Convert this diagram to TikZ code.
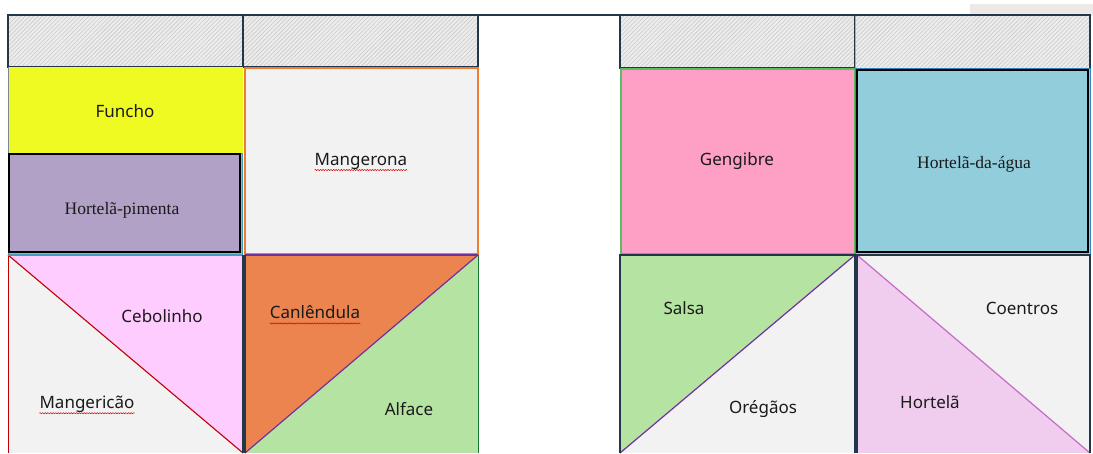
\documentclass[tikz,border=0pt]{standalone}
\usepackage{fontspec}
\setmainfont{Noto Sans}
\newfontfamily\serifcell{Liberation Serif}
\usetikzlibrary{patterns.meta,decorations.pathmorphing}

\definecolor{frame}{HTML}{22384A}
\definecolor{hatchbg}{HTML}{EDEDED}
\definecolor{hatchln}{HTML}{CFCFCF}
\definecolor{cellgray}{HTML}{F2F2F2}
\definecolor{funcho}{HTML}{EFFA22}
\definecolor{lilac}{HTML}{B2A1C7}
\definecolor{teal}{HTML}{3F9FBF}
\definecolor{orangeline}{HTML}{ED7D31}
\definecolor{pinkcell}{HTML}{FFCCFF}
\definecolor{redline}{HTML}{C00000}
\definecolor{calendula}{HTML}{EC844F}
\definecolor{leaf}{HTML}{B4E3A2}
\definecolor{violet}{HTML}{7030A0}
\definecolor{ginger}{HTML}{FEA0C5}
\definecolor{greenline}{HTML}{5DBB63}
\definecolor{water}{HTML}{92CDDC}
\definecolor{blueline}{HTML}{2E86C1}
\definecolor{mint}{HTML}{F0CDEE}
\definecolor{mintline}{HTML}{C66BC6}
\definecolor{ink}{HTML}{1A1A1A}
\definecolor{corner}{HTML}{EEE8E6}

\tikzset{
  hatch/.style={fill=hatchbg, postaction={pattern={Lines[angle=45,distance=3pt,line width=0.8pt]}, pattern color=hatchln}},
  edge/.style={draw=frame, line width=1.4pt},
  label/.style={font=\fontsize{17}{19}\selectfont, text=ink, inner sep=0pt},
  seriflabel/.style={font=\serifcell\fontsize{17.5}{19}\selectfont, text=ink, inner sep=0pt},
  squiggle/.style={draw=red!85!black, line width=0.5pt, decorate, decoration={snake, amplitude=0.6pt, segment length=2.6pt}}
}

\begin{document}
\begin{tikzpicture}[x=1pt,y=-1pt]
\useasboundingbox (0,0) rectangle (1093,453);
\fill[white] (0,0) rectangle (1093,453);
\fill[corner] (970,4) rectangle (1093,16);

% ---------- left bed ----------
% header strip
\path[hatch] (8,15) rectangle (243,67);
\path[hatch] (243,15) rectangle (478,67);
\draw[edge] (8,15) rectangle (243,67);
\draw[edge] (243,15) rectangle (478,67);

% Funcho
\fill[funcho] (8,67) rectangle (243,153);
\draw[frame!60, line width=1pt] (8,67) -- (8,153);

% Hortela-pimenta
\fill[lilac] (8,153) rectangle (242,254);
\draw[teal, line width=1pt] (8,153) rectangle (242,254);
\draw[black, line width=1.2pt] (9,154) rectangle (240,252);

% Mangerona
\filldraw[fill=cellgray, draw=orangeline, line width=1.2pt] (245,68) rectangle (478,254);

% Cebolinho / Mangericao
\fill[cellgray] (8,255) rectangle (243,453);
\fill[pinkcell] (8,255) -- (243,255) -- (243,453) -- cycle;
\draw[redline, line width=1.1pt] (8,255) -- (243,453);
\draw[redline, line width=1pt] (8,255) -- (8,453);
\draw[teal, line width=1pt] (8,255) -- (243,255);
\draw[frame, line width=1.2pt] (243,255) -- (243,453);

% Canlendula / Alface
\fill[calendula] (245,255) -- (478,255) -- (245,453) -- cycle;
\fill[leaf] (478,255) -- (478,453) -- (245,453) -- cycle;
\draw[violet, line width=1.2pt] (245,453) -- (478,255);
\draw[violet, line width=1.2pt] (245,255) -- (478,255);
\draw[frame, line width=1.2pt] (245,255) -- (245,453);
\draw[frame!70!green, line width=1pt] (478,255) -- (478,453);

% ---------- right bed ----------
\path[hatch] (620,15) rectangle (855,68);
\path[hatch] (855,15) rectangle (1090,68);
\draw[edge] (620,15) rectangle (855,68);
\draw[frame!40, line width=0.8pt] (855,15) -- (855,68);
\draw[edge] (855,15) -- (1090,15) -- (1090,68);

% top rail over both beds
\draw[edge] (8,15) -- (1090,15);

% Gengibre
\filldraw[fill=ginger, draw=greenline, line width=1.4pt] (621,69) rectangle (855,254);

% Hortela-da-agua
\filldraw[fill=water, draw=blueline, line width=1pt] (855,68) rectangle (1090,254);
\draw[black, line width=1.2pt] (857,70) rectangle (1088,252);

% Salsa / Oregaos
\fill[cellgray] (620,255) rectangle (855,453);
\fill[leaf] (620,255) -- (855,255) -- (620,453) -- cycle;
\draw[violet, line width=1.2pt] (620,453) -- (855,255);
\draw[frame, line width=1.2pt] (620,453) -- (620,255) -- (855,255) -- (855,453);

% Coentros / Hortela
\fill[cellgray] (857,255) rectangle (1090,453);
\fill[mint] (857,255) -- (857,453) -- (1090,453) -- cycle;
\draw[mintline, line width=1.2pt] (857,255) -- (1090,453);
\draw[frame, line width=1.2pt] (857,453) -- (857,255) -- (1090,255) -- (1090,453);

% ---------- labels ----------
\node[label] (funcho) at (125,111) {Funcho};
\node[seriflabel] (pimenta) at (122,210) {Hortelã-pimenta};
\node[label] (mangerona) at (361,161) {Mangerona};
\node[label] (cebolinho) at (162,316) {Cebolinho};
\node[label] (mangericao) at (87,404) {Mangericão};
\node[label] (calendula) at (315,312) {Canlêndula};
\node[label] (alface) at (409,409) {Alface};
\node[label] (gengibre) at (737,161) {Gengibre};
\node[seriflabel] (agua) at (974,164) {Hortelã-da-água};
\node[label] (salsa) at (684,308) {Salsa};
\node[label] (oregaos) at (763,409) {Orégãos};
\node[label] (coentros) at (1022,308) {Coentros};
\node[label] (hortela) at (930,402) {Hortelã};

% spell-check underlines
\draw[squiggle] ([yshift=-5pt]mangerona.base west) -- ([yshift=-5pt]mangerona.base east);
\draw[squiggle] ([yshift=-5pt]calendula.base west) -- ([yshift=-5pt]calendula.base east);
\draw[squiggle] ([yshift=-5pt]mangericao.base west) -- ([yshift=-5pt]mangericao.base east);
\end{tikzpicture}
\end{document}
